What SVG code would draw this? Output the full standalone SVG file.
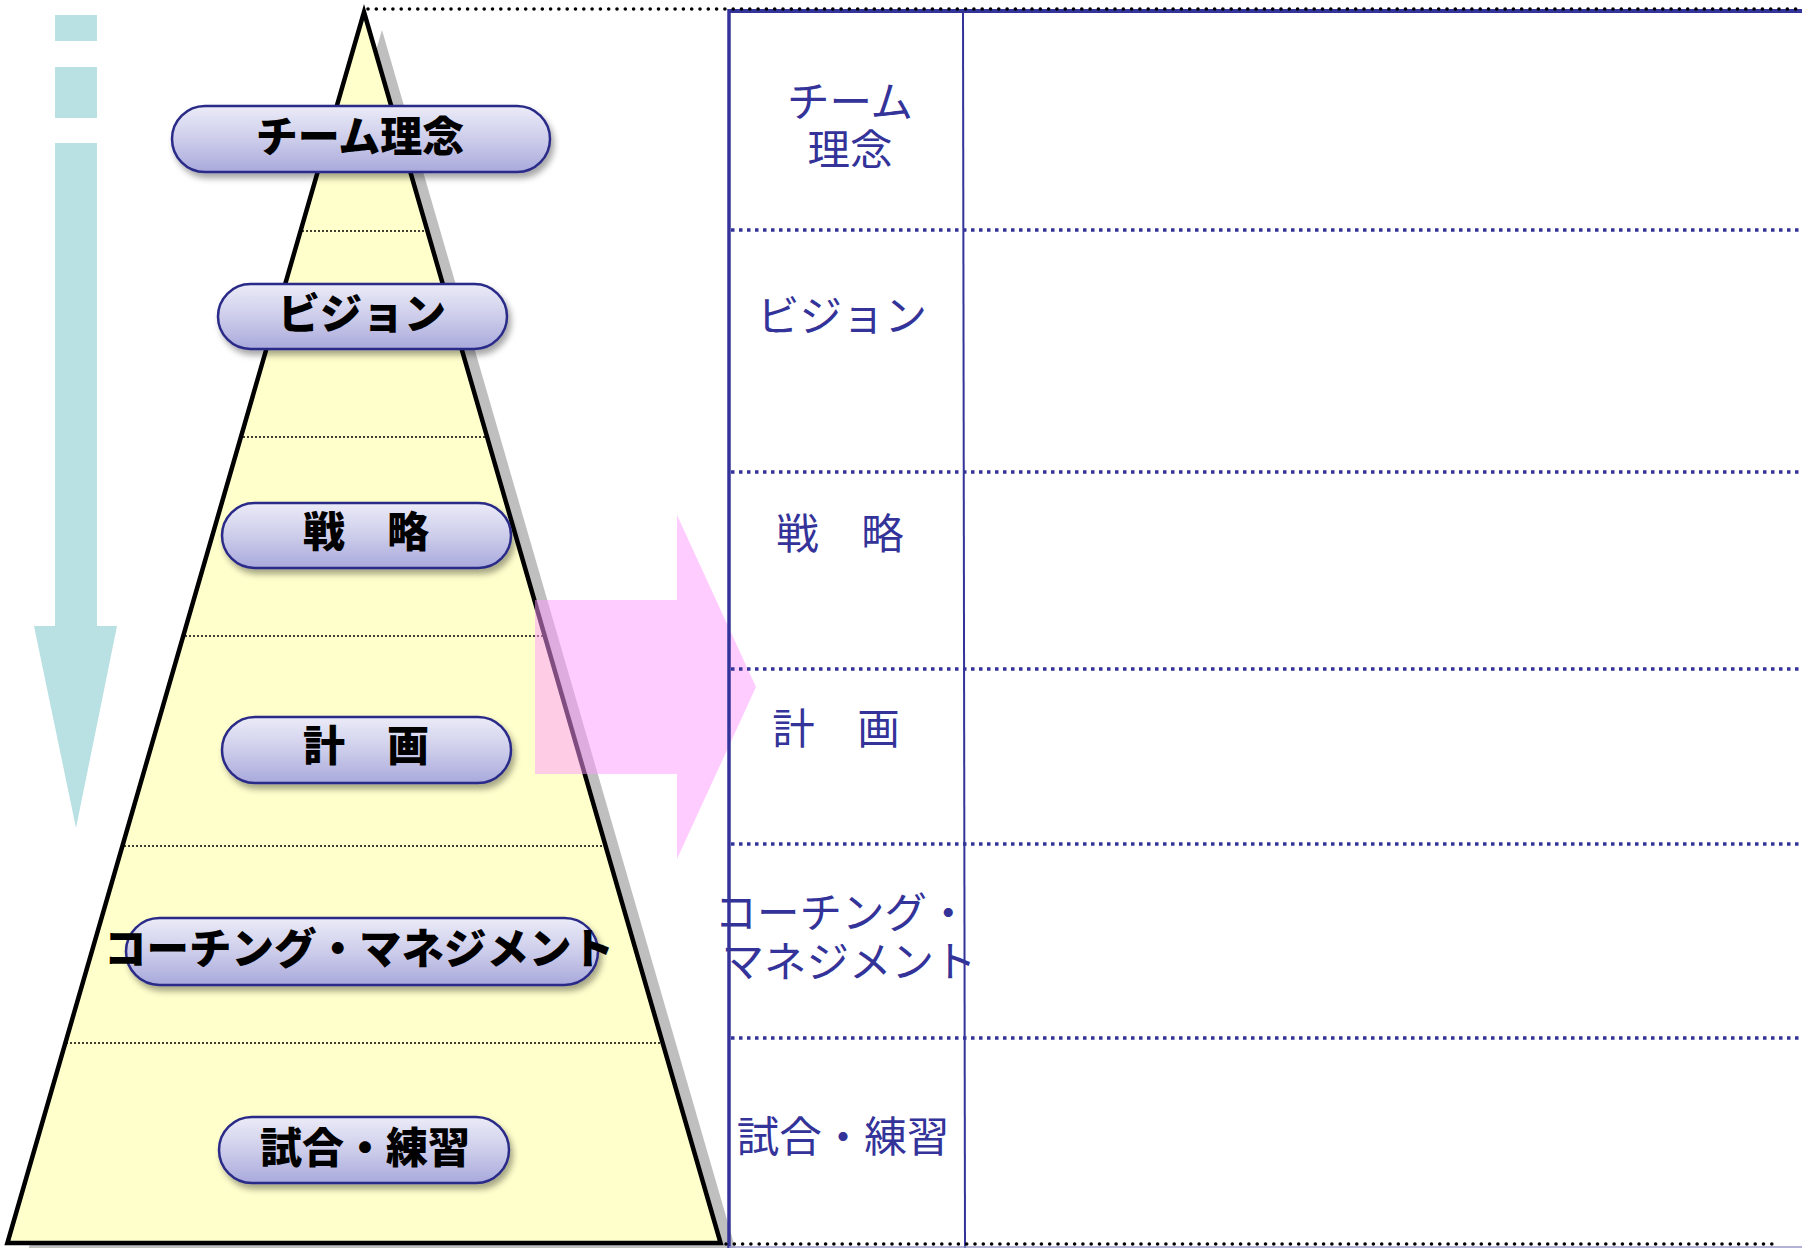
<svg xmlns="http://www.w3.org/2000/svg" width="1802" height="1248" viewBox="0 0 1802 1248">
<defs>
<linearGradient id="pillGrad" x1="0" y1="0" x2="0" y2="1">
<stop offset="0" stop-color="#ebebf8"/>
<stop offset="0.5" stop-color="#cdcdeb"/>
<stop offset="1" stop-color="#a9a9dc"/>
</linearGradient>
<filter id="pillShadow" x="-10%" y="-30%" width="125%" height="170%">
<feDropShadow dx="3" dy="5" stdDeviation="3" flood-color="#000" flood-opacity="0.35"/>
</filter>
<style>
.pill{fill:url(#pillGrad);stroke:#2a2a88;stroke-width:2.5;filter:url(#pillShadow)}
.ptxt{font-family:"Noto Sans CJK JP","Noto Sans CJK SC",sans-serif;font-weight:900;font-size:42px;fill:#000;text-anchor:middle}
.ttxt{font-family:"Noto Sans CJK JP","Noto Sans CJK SC",sans-serif;font-weight:normal;font-size:42.5px;fill:#333399;text-anchor:middle}
.pdiv{stroke:#000;stroke-width:1.6;stroke-dasharray:2 2}
.tdiv{stroke:#333399;stroke-width:3.5;stroke-dasharray:3.5 4.5}
.bdots{stroke:#000;stroke-width:3.6;stroke-dasharray:0 8.3;stroke-linecap:round}
</style>
</defs>
<rect width="1802" height="1248" fill="#fff"/>

<g id="flow-arrow">
<rect x="55" y="15" width="42" height="26" fill="#b9e0e3"/>
<rect x="55" y="67" width="42" height="51" fill="#b9e0e3"/>
<polygon points="55,143 97,143 97,626 117,626 76,828 34,626 55,626" fill="#b9e0e3"/>
</g>

<g id="pyramid">
<polygon points="382,30 739,1261 25,1261" fill="#bfbfbf"/>
<polygon points="364,12 720.6,1243 7.4,1243" fill="#ffffcc" stroke="#000" stroke-width="4.5" stroke-linejoin="miter"/>
<line class="pdiv" x1="302" y1="231" x2="426" y2="231"/>
<line class="pdiv" x1="243" y1="437" x2="485" y2="437"/>
<line class="pdiv" x1="185" y1="636" x2="543" y2="636"/>
<line class="pdiv" x1="124" y1="846" x2="604" y2="846"/>
<line class="pdiv" x1="66" y1="1043" x2="662" y2="1043"/>
</g>

<g id="transfer-arrow">
<polygon points="535,600 677,600 677,515 756,687 677,859 677,774 535,774" fill="#ff99ff" fill-opacity="0.5"/>
</g>

<g id="table">
<line x1="729" y1="11" x2="1802" y2="11" stroke="#333399" stroke-width="4"/>
<line x1="729" y1="9" x2="729" y2="1248" stroke="#333399" stroke-width="3.5"/>
<line x1="963" y1="11" x2="965" y2="1248" stroke="#333399" stroke-width="2"/>
<line class="tdiv" x1="731" y1="230" x2="1802" y2="230"/>
<line class="tdiv" x1="731" y1="472" x2="1802" y2="472"/>
<line class="tdiv" x1="731" y1="669" x2="1802" y2="669"/>
<line class="tdiv" x1="731" y1="844" x2="1802" y2="844"/>
<line class="tdiv" x1="731" y1="1038" x2="1802" y2="1038"/>
<line x1="729" y1="1247" x2="1802" y2="1247" stroke="#9999cc" stroke-width="1.5"/>
</g>

<g id="guide-lines">
<line class="bdots" x1="368" y1="9" x2="1800" y2="9"/>
<line class="bdots" x1="726" y1="1244" x2="1780" y2="1244"/>
</g>

<g id="row-labels">
<text class="ttxt" x="850" y="117">チーム</text>
<text class="ttxt" x="850" y="165">理念</text>
<text class="ttxt" x="842" y="331">ビジョン</text>
<text class="ttxt" x="840" y="549">戦　略</text>
<text class="ttxt" x="836" y="744">計　画</text>
<text class="ttxt" x="842" y="928">コーチング・</text>
<text class="ttxt" x="849" y="977">マネジメント</text>
<text class="ttxt" x="843" y="1152">試合・練習</text>
</g>

<g id="pill-philosophy">
<rect class="pill" x="172" y="106" width="378" height="66" rx="33"/>
<text class="ptxt" x="360" y="152">チーム理念</text>
</g>
<g id="pill-vision">
<rect class="pill" x="218" y="284" width="289" height="65" rx="32.5"/>
<text class="ptxt" x="362" y="329">ビジョン</text>
</g>
<g id="pill-strategy">
<rect class="pill" x="222" y="503" width="289" height="65" rx="32.5"/>
<text class="ptxt" x="366" y="547">戦　略</text>
</g>
<g id="pill-plan">
<rect class="pill" x="222" y="717" width="289" height="66" rx="33"/>
<text class="ptxt" x="366" y="761">計　画</text>
</g>
<g id="pill-coaching">
<rect class="pill" x="126" y="918" width="472" height="67" rx="33.5"/>
<text class="ptxt" x="359" y="964" style="font-size:42.5px">コーチング・マネジメント</text>
</g>
<g id="pill-practice">
<rect class="pill" x="219" y="1117" width="290" height="66" rx="33"/>
<text class="ptxt" x="365" y="1163">試合・練習</text>
</g>
</svg>
